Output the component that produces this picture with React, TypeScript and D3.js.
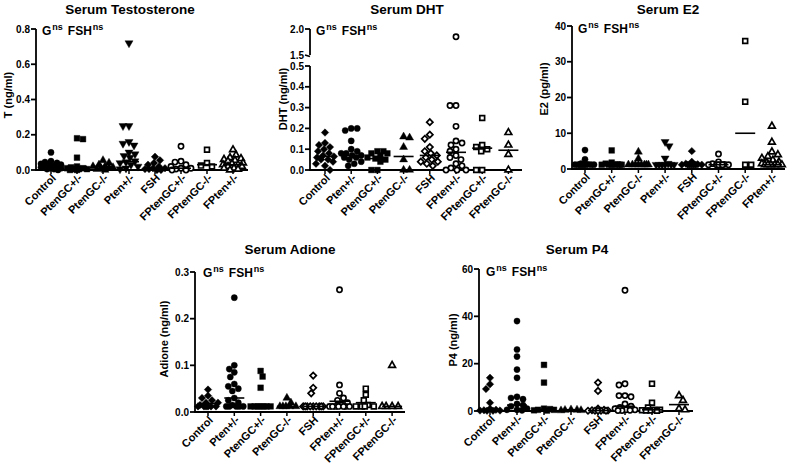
import React from 'react';
import * as d3 from 'd3';

const FONT = "'Liberation Sans', Arial, Helvetica, sans-serif";

// ---------- categories ----------
const groupsA = ['Control', 'PtenGC+/-', 'PtenGC-/-', 'Pten+/-', 'FSH', 'FPtenGC+/-', 'FPtenGC-/-', 'FPten+/-'];
const groupsB = ['Control', 'Pten+/-', 'PtenGC+/-', 'PtenGC-/-', 'FSH', 'FPten+/-', 'FPtenGC+/-', 'FPtenGC-/-'];

// ---------- Serum Testosterone (ng/ml) ----------
const tTicks = [0, 0.2, 0.4, 0.6, 0.8];
const tValues = [
  [0.1, 0.05, 0.045, 0.04, 0.035, 0.03, 0.03, 0.025, 0.02, 0.02, 0.015, 0.01, 0.01, 0.005, 0.005, 0.0],
  [0.175, 0.18, 0.07, 0.02, 0.015, 0.01, 0.01, 0.005, 0.005, 0.005, 0, 0],
  [0.055, 0.04, 0.03, 0.02, 0.02, 0.015, 0.01, 0.01, 0.005, 0],
  [0.72, 0.25, 0.25, 0.16, 0.15, 0.14, 0.1, 0.09, 0.08, 0.07, 0.05, 0.045, 0.04, 0.03, 0.02, 0.01, 0.005],
  [0.075, 0.055, 0.04, 0.03, 0.02, 0.01, 0.01, 0.005, 0.005, 0, 0],
  [0.135, 0.05, 0.045, 0.03, 0.02, 0.01, 0.01, 0.005, 0, 0],
  [0.115, 0.04, 0.025, 0.02],
  [0.115, 0.085, 0.07, 0.065, 0.06, 0.055, 0.05, 0.04, 0.035, 0.03, 0.03, 0.02, 0.02, 0.01, 0.01, 0.005, 0],
];
const tMedians = [0.02, 0.02, 0.02, 0.047, 0.01, 0.01, 0.03, 0.03];

// ---------- Serum DHT (ng/ml) ----------
const dTicksLow = [0, 0.1, 0.2, 0.3, 0.4, 0.5];
const dTicksHigh = [1.5, 2.0];
const dValues = [
  [0.18, 0.13, 0.12, 0.11, 0.1, 0.09, 0.08, 0.07, 0.065, 0.06, 0.05, 0.05, 0.04, 0.03, 0.02, 0.0],
  [0.2, 0.2, 0.19, 0.14, 0.1, 0.09, 0.08, 0.08, 0.07, 0.07, 0.06, 0.06, 0.05, 0.04, 0.03, 0.02],
  [0.09, 0.09, 0.08, 0.08, 0.07, 0.06, 0.055, 0.05, 0.04, 0.0, 0.0],
  [0.16, 0.155, 0.11, 0.05, 0.0, 0.0],
  [0.23, 0.17, 0.15, 0.11, 0.09, 0.08, 0.07, 0.06, 0.05, 0.04, 0.04, 0.03, 0.02],
  [1.85, 0.31, 0.31, 0.21, 0.14, 0.13, 0.12, 0.1, 0.09, 0.07, 0.06, 0.05, 0.03, 0.02, 0.01, 0.0, 0.0, 0.0],
  [0.25, 0.12, 0.11, 0.1, 0.09, 0.0, 0.0],
  [0.18, 0.12, 0.075, 0.0],
];
const dMedians = [0.065, 0.07, 0.055, 0.065, 0.07, 0.085, 0.105, 0.095];

// ---------- Serum E2 (pg/ml) ----------
const eTicks = [0, 10, 20, 30, 40];
const eValues = [
  [5.3, 2.7, 1.5, 1.3, 1.2, 1.2, 1.2, 1.2, 1.2, 1.2, 1.2, 1.2],
  [5.2, 1.8, 1.5, 1.3, 1.2, 1.2, 1.2, 1.2, 1.2, 1.2],
  [4.8, 2.9, 1.2, 1.2, 1.2, 1.2, 1.2, 1.2, 1.2, 1.2],
  [7.6, 6.4, 3.0, 1.5, 1.2, 1.2, 1.2, 1.2, 1.2, 1.2],
  [5, 2, 1.5, 1.3, 1.2, 1.2, 1.2, 1.2, 1.2, 1.2, 1.2],
  [4.2, 2, 1.5, 1.3, 1.2, 1.2, 1.2, 1.2, 1.2, 1.2],
  [35.8, 18.8, 1.2, 1.2],
  [12, 7.5, 4.8, 4, 3.5, 3, 2.5, 2, 1.8, 1.5, 1.2, 1.2, 1.2, 1.2, 1.2, 1.2],
];
const eMedians = [1.2, 1.2, 1.2, 1.5, 1.2, 1.2, 10, 1.2];

// ---------- Serum Adione (ng/ml) ----------
const aTicks = [0, 0.1, 0.2, 0.3];
const aValues = [
  [0.048, 0.035, 0.03, 0.025, 0.02, 0.02, 0.015, 0.012, 0.012, 0.012, 0.012, 0.012, 0.012],
  [0.245, 0.1, 0.092, 0.085, 0.075, 0.06, 0.055, 0.05, 0.045, 0.03, 0.025, 0.02, 0.015, 0.012, 0.012, 0.012, 0.012, 0.012],
  [0.088, 0.076, 0.052, 0.012, 0.012, 0.012, 0.012, 0.012, 0.012, 0.012],
  [0.03, 0.02, 0.012, 0.012, 0.012, 0.012, 0.012],
  [0.078, 0.052, 0.04, 0.012, 0.012, 0.012, 0.012, 0.012, 0.012, 0.012, 0.012, 0.012],
  [0.262, 0.058, 0.04, 0.03, 0.025, 0.02, 0.015, 0.012, 0.012, 0.012, 0.012, 0.012, 0.012, 0.012],
  [0.05, 0.037, 0.025, 0.015, 0.012, 0.012, 0.012, 0.012],
  [0.1, 0.012, 0.012, 0.012, 0.012],
];
const aMedians = [0.018, 0.03, 0.012, 0.012, 0.012, 0.023, 0.02, 0.012];

// ---------- Serum P4 (ng/ml) ----------
const pTicks = [0, 20, 40, 60];
const pValues = [
  [14, 11.3, 9.3, 3.5, 1, 0.5, 0.3, 0.2, 0.2, 0.1, 0.1],
  [38, 26, 23, 17.5, 14, 6, 5.5, 5, 3, 2.5, 2, 1, 0.5, 0.5, 0.3],
  [19.5, 12, 1, 0.8, 0.5, 0.5, 0.3, 0.2],
  [0.6, 0.5, 0.4, 0.3, 0.2],
  [12, 8.5, 1, 0.5, 0.3, 0.2, 0.1, 0.1, 0.1, 0.1, 0.1],
  [51, 11.5, 11, 6.5, 6.5, 6, 3, 2, 1.5, 1, 0.5, 0.5, 0.3, 0.2, 0.2],
  [11.5, 3.5, 1.5, 0.5, 0.5, 0.3, 0.2, 0.2, 0.1],
  [6.5, 4.5, 1, 0.5],
];
const pMedians = [0.5, 2.5, 0.7, 0.5, 0.2, 2, 0.5, 2.7];

// ---------- styles ----------
type Shape = 'circle' | 'square' | 'triangle' | 'triangleDown' | 'diamond';
interface Marker { shape: Shape; open: boolean }
const markersA: Marker[] = [
  { shape: 'circle', open: false }, { shape: 'square', open: false }, { shape: 'triangle', open: false },
  { shape: 'triangleDown', open: false }, { shape: 'diamond', open: false }, { shape: 'circle', open: true },
  { shape: 'square', open: true }, { shape: 'triangle', open: true },
];
const markersB: Marker[] = [
  { shape: 'diamond', open: false }, { shape: 'circle', open: false }, { shape: 'square', open: false },
  { shape: 'triangle', open: false }, { shape: 'diamond', open: true }, { shape: 'circle', open: true },
  { shape: 'square', open: true }, { shape: 'triangle', open: true },
];

function markerPath(shape: Shape, open: boolean): string {
  const k = open ? 0.7 : 1;
  switch (shape) {
    case 'circle': return d3.symbol().type(d3.symbolCircle).size(30 * k)() as string;
    case 'square': return d3.symbol().type(d3.symbolSquare).size(33 * k)() as string;
    case 'diamond': return d3.symbol().type(d3.symbolSquare).size(28 * k)() as string;
    default: return d3.symbol().type(d3.symbolTriangle).size(28 * k)() as string;
  }
}
function markerRot(shape: Shape): number {
  if (shape === 'triangleDown') return 180;
  if (shape === 'diamond') return 45;
  return 0;
}

// beeswarm-like horizontal spreading (deterministic)
function swarm(vals: number[], y: (v: number) => number, d = 5.8, maxOff = 10) {
  const order = vals.map((_, i) => i).sort((a, b) => vals[b] - vals[a]);
  const out: { x: number; y: number }[] = new Array(vals.length);
  const placed: { x: number; y: number }[] = [];
  order.forEach((i, n) => {
    const py = y(vals[i]);
    let best = 0;
    let bestScore = -Infinity;
    const sgn = n % 2 === 0 ? 1 : -1;
    for (let k = 0; k <= 2 * maxOff; k++) {
      const off = (k % 2 === 0 ? sgn : -sgn) * Math.ceil(k / 2);
      let md = Infinity;
      for (const p of placed) {
        const dd = Math.hypot(p.x - off, p.y - py);
        if (dd < md) md = dd;
      }
      const score = Math.min(md, d) - Math.abs(off) * 0.001;
      if (score > bestScore + 1e-9) { bestScore = score; best = off; }
    }
    const pt = { x: best, y: py };
    placed.push(pt);
    out[i] = pt;
  });
  return out;
}

interface PanelDef {
  title: string; titleX: number; titleY: number;
  yLabel: string; yLabelX: number; yLabelY: number;
  axisX: number; axisEnd: number; y0: number; yTop: number;
  domainMax: number; ticks: number[]; fmt: (v: number) => string;
  cats: string[]; values: number[][]; medians: number[]; markers: Marker[];
  x0: number; step: number; annX: number; annY: number;
  breakAxis?: boolean;
}

const f1 = d3.format('.1f');
const f0 = d3.format('d');

const panels: PanelDef[] = [
  {
    title: 'Serum Testosterone', titleX: 130, titleY: 14, yLabel: 'T (ng/ml)', yLabelX: 12, yLabelY: 95,
    axisX: 36, axisEnd: 248, y0: 170, yTop: 29, domainMax: 0.8, ticks: tTicks, fmt: f1,
    cats: groupsA, values: tValues, medians: tMedians, markers: markersA, x0: 51, step: 26, annX: 42, annY: 35,
  },
  {
    title: 'Serum DHT', titleX: 407, titleY: 14, yLabel: 'DHT (ng/ml)', yLabelX: 287, yLabelY: 99,
    axisX: 310, axisEnd: 522, y0: 170, yTop: 66, domainMax: 0.5, ticks: dTicksLow, fmt: f1,
    cats: groupsB, values: dValues, medians: dMedians, markers: markersB, x0: 325, step: 26.2, annX: 316, annY: 35,
    breakAxis: true,
  },
  {
    title: 'Serum E2', titleX: 668, titleY: 14, yLabel: 'E2 (pg/ml)', yLabelX: 548, yLabelY: 89,
    axisX: 572, axisEnd: 785, y0: 169, yTop: 26, domainMax: 40, ticks: eTicks, fmt: f0,
    cats: groupsA, values: eValues, medians: eMedians, markers: markersA, x0: 585, step: 26.7, annX: 578, annY: 33,
  },
  {
    title: 'Serum Adione', titleX: 290, titleY: 254, yLabel: 'Adione (ng/ml)', yLabelX: 168, yLabelY: 339,
    axisX: 195, axisEnd: 405, y0: 412, yTop: 272, domainMax: 0.3, ticks: aTicks, fmt: f1,
    cats: groupsB, values: aValues, medians: aMedians, markers: markersB, x0: 208, step: 26.3, annX: 203, annY: 277,
  },
  {
    title: 'Serum P4', titleX: 577, titleY: 254, yLabel: 'P4 (ng/ml)', yLabelX: 457, yLabelY: 340,
    axisX: 479, axisEnd: 693, y0: 411, yTop: 269, domainMax: 60, ticks: pTicks, fmt: f0,
    cats: groupsB, values: pValues, medians: pMedians, markers: markersB, x0: 490, step: 27, annX: 486, annY: 276,
  },
];

function Panel({ p }: { p: PanelDef }) {
  const low = d3.scaleLinear().domain([0, p.domainMax]).range([p.y0, p.yTop]);
  const high = d3.scaleLinear().domain([1.5, 2.0]).range([55, 29]);
  const y = (v: number) => (p.breakAxis && v > p.domainMax ? high(v) : low(v));
  const x = d3.scaleLinear().domain([0, 1]).range([p.x0, p.x0 + p.step]);
  const sw = 1.8;
  return (
    <g>
      <text x={p.titleX} y={p.titleY} textAnchor="middle" fontSize={13.5} fontWeight="bold">{p.title}</text>
      <text transform={`translate(${p.yLabelX},${p.yLabelY}) rotate(-90)`} textAnchor="middle" fontSize={11} fontWeight="bold">{p.yLabel}</text>
      <text x={p.annX} y={p.annY} fontSize={12} fontWeight="bold">
        <tspan>G</tspan>
        <tspan dx={1} dy={-5} fontSize={9}>ns</tspan>
        <tspan dx={5} dy={5}>FSH</tspan>
        <tspan dx={1} dy={-5} fontSize={9}>ns</tspan>
      </text>
      {/* y axis */}
      <line x1={p.axisX} x2={p.axisX} y1={p.yTop} y2={p.y0} stroke="#000" strokeWidth={sw} />
      {p.ticks.map((t) => (
        <g key={t}>
          <line x1={p.axisX - 5} x2={p.axisX} y1={low(t)} y2={low(t)} stroke="#000" strokeWidth={sw} />
          <text x={p.axisX - 6} y={low(t)} dy="0.35em" textAnchor="end" fontSize={10} fontWeight="bold">{p.fmt(t)}</text>
        </g>
      ))}
      {p.breakAxis && (
        <g>
          <line x1={p.axisX} x2={p.axisX} y1={high(2.0)} y2={high(1.5)} stroke="#000" strokeWidth={sw} />
          {dTicksHigh.map((t) => (
            <g key={t}>
              <line x1={p.axisX - 5} x2={p.axisX} y1={high(t)} y2={high(t) + (t === 1.5 ? 1.5 : 0)} stroke="#000" strokeWidth={sw} />
              <text x={p.axisX - 6} y={high(t)} dy="0.35em" textAnchor="end" fontSize={10} fontWeight="bold">{f1(t)}</text>
            </g>
          ))}
        </g>
      )}
      {/* x axis */}
      <line x1={p.axisX - 0.9} x2={p.axisEnd} y1={p.y0} y2={p.y0} stroke="#000" strokeWidth={sw} />
      {p.cats.map((c, i) => (
        <g key={c}>
          <line x1={x(i)} x2={x(i)} y1={p.y0} y2={p.y0 + 4} stroke="#000" strokeWidth={1.5} />
          <text transform={`translate(${x(i) + 3},${p.y0 + 6}) rotate(-45)`} textAnchor="end" dy="0.35em" fontSize={11} fontWeight="bold">{c}</text>
        </g>
      ))}
      {/* points */}
      {p.values.map((vals, gi) => {
        const m = p.markers[gi];
        const pts = swarm(vals, y);
        const d = markerPath(m.shape, m.open);
        const rot = markerRot(m.shape);
        const cx = x(gi);
        return (
          <g key={gi}>
            {pts.map((pt, k) => (
              <path key={k} d={d} transform={`translate(${cx + pt.x},${pt.y}) rotate(${rot})`}
                fill={m.open ? '#fff' : '#000'} stroke="#000" strokeWidth={m.open ? 1.7 : 0.4} />
            ))}
            <line x1={cx - 10} x2={cx + 10} y1={y(p.medians[gi])} y2={y(p.medians[gi])} stroke="#000" strokeWidth={1.6} />
          </g>
        );
      })}
    </g>
  );
}

export default function App() {
  return (
    <svg width={787} height={467} viewBox="0 0 787 467"
      style={{ position: 'absolute', left: 0, top: 0, background: '#fff' }}
      fontFamily={FONT} fill="#000">
      <rect width={787} height={467} fill="#fff" />
      {panels.map((p) => <Panel key={p.title} p={p} />)}
    </svg>
  );
}
